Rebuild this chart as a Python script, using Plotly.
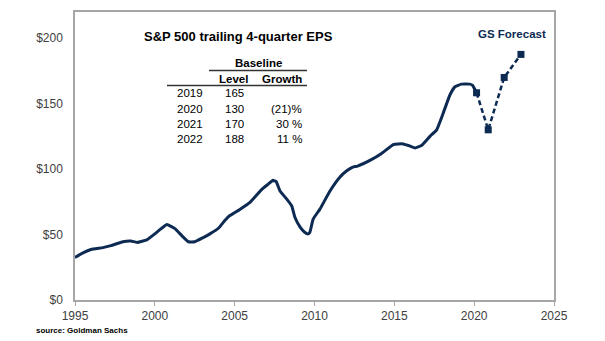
import plotly.graph_objects as go

# ---- data ----
hist_years = [1995.0, 1995.5, 1996.0, 1996.75, 1997.25, 1998.0, 1998.5, 1998.9, 1999.5,
              2000.0, 2000.4, 2000.76, 2001.26, 2001.7, 2002.1, 2002.5, 2003.0, 2003.45,
              2004.0, 2004.4, 2004.7, 2005.3, 2005.96, 2006.7, 2007.1, 2007.4, 2007.6,
              2007.84, 2008.2, 2008.57, 2008.78, 2009.1, 2009.4, 2009.6, 2009.71, 2009.92,
              2010.34, 2010.97, 2011.6, 2012.0, 2012.4, 2012.7, 2013.5, 2014.2, 2014.93,
              2015.25, 2015.56, 2016.0, 2016.3, 2016.7, 2017.23, 2017.65, 2018.06, 2018.48,
              2018.8, 2019.2, 2019.73, 2019.9, 2020.15]
hist_eps = [32.5, 36, 38.6, 40, 41.5, 44.5, 45, 44, 46,
            50.5, 54.5, 57.6, 54.5, 49, 44.5, 44.5, 47.5, 50.5,
            55, 61, 64.5, 69, 74.5, 84.5, 88.5, 91.4, 90.4,
            83.3, 78, 72, 63, 55.6, 51.5, 50.5, 51.8, 61.9,
            69.4, 83.3, 94, 98.5, 101.5, 102.3, 106.8, 111.9, 118.7,
            119.2, 119.2, 117.5, 116.2, 118, 125, 130, 142.7, 156.6,
            162.9, 164.9, 164.9, 164, 158.3]

fc_years = [2020.15, 2020.88, 2021.88, 2022.93]
fc_eps = [158.3, 130, 170, 187.6]

table_years = ["2019", "2020", "2021", "2022"]
table_level = ["165", "130", "170", "188"]
table_growth = ["", "(21)%", "30 %", "11 %"]

title_text = "S&P 500 trailing 4-quarter EPS"
forecast_label = "GS Forecast"
source_text = "source: Goldman Sachs"

y_ticks = [0, 50, 100, 150, 200]
y_tick_labels = ["$0", "$50", "$100", "$150", "$200"]
x_ticks = [1995, 2000, 2005, 2010, 2015, 2020, 2025]

NAVY = "#0c2a52"
FONT = "Liberation Sans, Arial, sans-serif"

fig = go.Figure()
fig.add_trace(go.Scatter(x=hist_years, y=hist_eps, mode="lines",
                         line=dict(color=NAVY, width=3, shape="spline", smoothing=0.35),
                         hoverinfo="skip", showlegend=False))
fig.add_trace(go.Scatter(x=fc_years, y=fc_eps, mode="lines+markers",
                         line=dict(color=NAVY, width=2.5, dash="5px,3px"),
                         marker=dict(symbol="square", size=7, color=NAVY),
                         hoverinfo="skip", showlegend=False))

# plot area pixel geometry (for paper-coordinate helpers)
L, R, T, B = 75, 554, 10, 300
W, H = 605, 341

def px(xp):
    return (xp - L) / (R - L)

def py(yp):
    return (B - yp) / (B - T)

def txt(text, x, y, anchor, size=11.5, color="#000000"):
    return dict(text=text, x=px(x), y=py(y), xref="paper", yref="paper",
                xanchor=anchor, yanchor="middle", showarrow=False,
                font=dict(size=size, color=color, family=FONT))

ann = [
    txt("<b>" + title_text + "</b>", 142, 35, "left", size=13),
    txt("<b>" + forecast_label + "</b>", 548, 32, "right", color=NAVY),
    txt("<b>Baseline</b>", 258, 61, "center"),
    txt("<b>Level</b>", 233, 77, "center"),
    txt("<b>Growth</b>", 282, 77, "center"),
]
row_y = [92, 107.5, 123, 138]
for i in range(len(table_years)):
    ann.append(txt(table_years[i], 175, row_y[i], "left"))
    ann.append(txt(table_level[i], 223, row_y[i], "left"))
    if table_growth[i]:
        ann.append(txt(table_growth[i], 304, row_y[i], "right"))
ann.append(txt("<b>" + source_text + "</b>", 34, 331, "left", size=8))

shapes = [
    dict(type="line", xref="paper", yref="paper", x0=px(209), x1=px(307), y0=py(69), y1=py(69),
         line=dict(color="#333333", width=1.5)),
    dict(type="line", xref="paper", yref="paper", x0=px(167), x1=px(307), y0=py(84), y1=py(84),
         line=dict(color="#333333", width=1.5)),
]

fig.update_layout(
    width=W, height=H,
    margin=dict(l=L, r=W - R, t=T, b=H - B),
    paper_bgcolor="white", plot_bgcolor="white",
    font=dict(family=FONT, size=12, color="#404040"),
    annotations=ann, shapes=shapes,
    xaxis=dict(range=[1995, 2025], tickvals=x_ticks, ticktext=[str(v) for v in x_ticks],
               showgrid=False, zeroline=False, showline=True, mirror=True,
               linecolor="#a6a6a6", linewidth=1.5, ticks="outside", ticklen=4,
               tickcolor="#a6a6a6", tickfont=dict(size=12, color="#404040")),
    yaxis=dict(range=[0, 220], tickvals=y_ticks, ticktext=y_tick_labels,
               showgrid=False, zeroline=False, showline=True, mirror=True,
               linecolor="#a6a6a6", linewidth=1.5, ticks="", ticklen=0,
               ticklabelstandoff=8,
               tickfont=dict(size=12, color="#404040")),
)

fig.write_html("out.html")
